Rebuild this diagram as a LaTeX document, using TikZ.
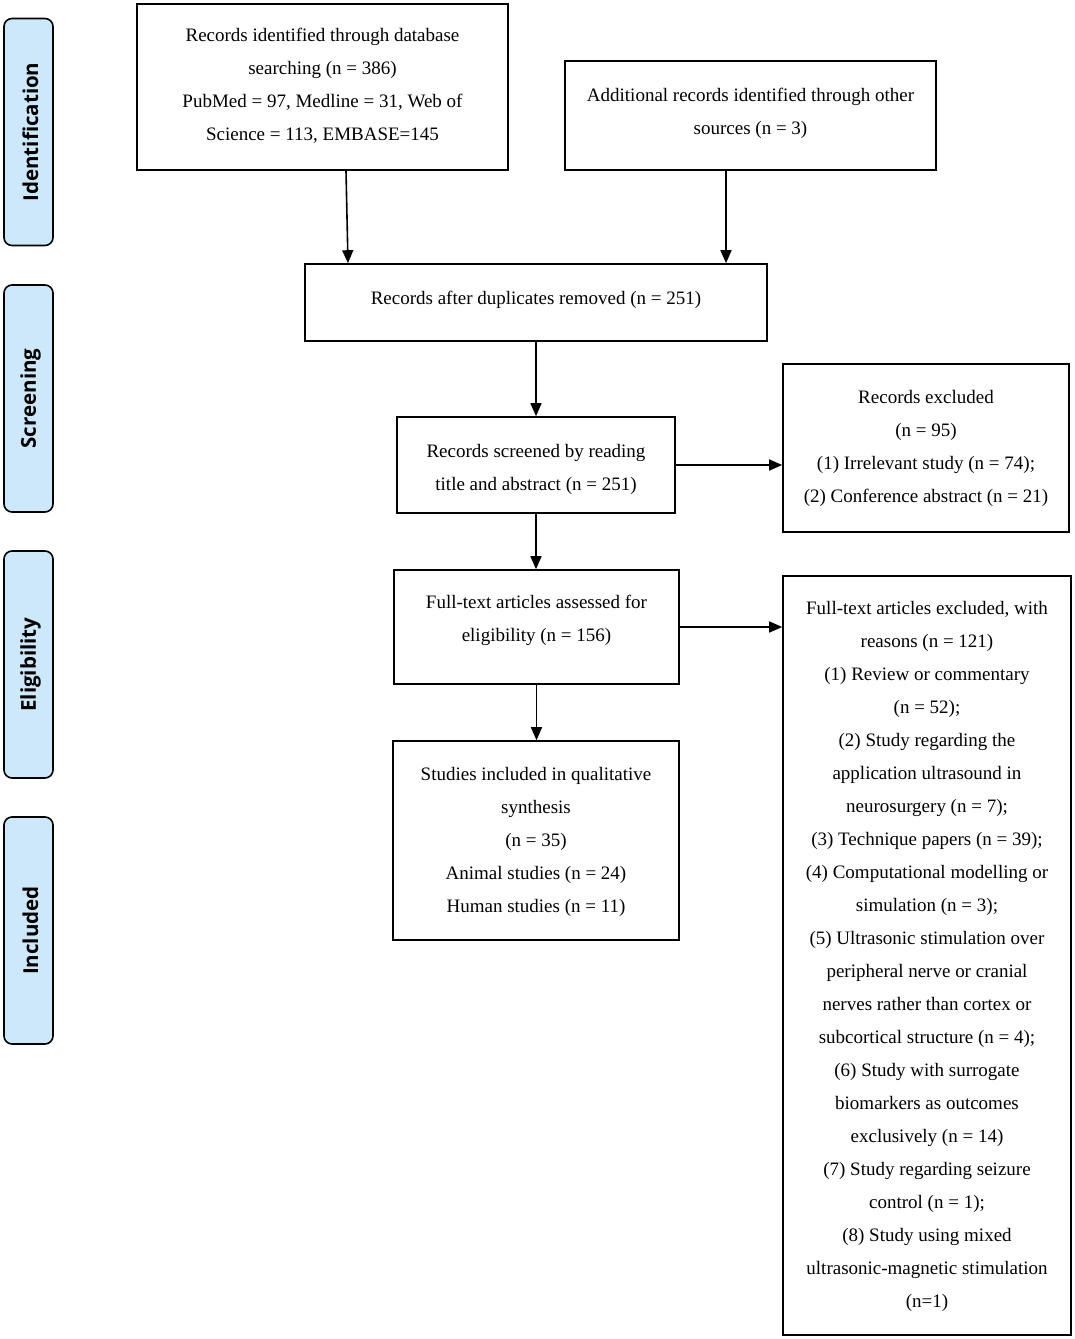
\documentclass[tikz,border=0pt]{standalone}
\usepackage{fontspec}
\setmainfont{Liberation Serif}
\newfontfamily\sidefont{Open Sans}
\usetikzlibrary{arrows.meta}
\definecolor{sideblue}{HTML}{CCE8FA}
\begin{document}
\begin{tikzpicture}[x=1pt,y=-1pt,
  box/.style={draw, line width=1.6pt, inner sep=0pt},
  boxtext/.style={inner sep=0pt, align=center, font=\fontsize{19}{33}\selectfont},
  side/.style={draw, line width=1.6pt, rounded corners=8pt, fill=sideblue,
    minimum width=49pt, minimum height=227pt, inner sep=0pt},
  sidetext/.style={rotate=90, font=\sidefont\bfseries\fontsize{20.5}{24}\selectfont},
  arr/.style={line width=1.6pt, -{Triangle[length=13pt,width=11pt]}}]
\useasboundingbox (0,0) rectangle (1074,1339);
% side bars
\node[side] (s1) at (28.5,132) {};
\node[sidetext] (t1) at ([xshift=2pt]s1.center) {Identification};
\node[side] (s2) at (28.5,398.5) {};
\node[sidetext] (t2) at ([xshift=2pt]s2.center) {Screening};
\node[side] (s3) at (28.5,664.5) {};
\node[sidetext] (t3) at ([xshift=2pt]s3.center) {Eligibility};
\node[side] (s4) at (28.5,930.5) {};
\node[sidetext] (t4) at ([xshift=2pt]s4.center) {Included};
% boxes
\node[box, minimum width=371pt, minimum height=166pt] (b1) at (322.5,87) {};
\node[boxtext] (x1) at ([yshift=1pt]b1.center)
  {Records identified through database\\searching (n = 386)\\PubMed = 97, Medline = 31, Web of\\Science = 113, EMBASE=145};
\node[box, minimum width=371pt, minimum height=109pt] (b2) at (750.5,115.5) {};
\node[boxtext] (x2) at ([yshift=2pt]b2.center)
  {Additional records identified through other\\sources (n = 3)};
\node[box, minimum width=462pt, minimum height=77pt] (b3) at (536,302.5) {};
\node[boxtext] (x3) at ([yshift=3pt]b3.center)
  {Records after duplicates removed (n = 251)};
\node[box, minimum width=278pt, minimum height=96pt] (b4) at (536,465) {};
\node[boxtext] (x4) at ([yshift=-4pt]b4.center)
  {Records screened by reading\\title and abstract (n = 251)};
\node[box, minimum width=286pt, minimum height=168pt] (b5) at (926,448) {};
\node[boxtext] (x5) at (b5.center)
  {Records excluded\\(n = 95)\\(1) Irrelevant study (n = 74);\\(2) Conference abstract (n = 21)};
\node[box, minimum width=285pt, minimum height=114pt] (b6) at (536.5,627) {};
\node[boxtext] (x6) at ([yshift=7pt]b6.center)
  {Full-text articles assessed for\\eligibility (n = 156)};
\node[box, minimum width=288pt, minimum height=759pt] (b7) at (927,955.5) {};
\node[boxtext] (x7) at ([yshift=-1pt]b7.center)
  {Full-text articles excluded, with\\reasons (n = 121)\\(1) Review or commentary\\(n = 52);\\(2) Study regarding the\\application ultrasound in\\neurosurgery (n = 7);\\(3) Technique papers (n = 39);\\(4) Computational modelling or\\simulation (n = 3);\\(5) Ultrasonic stimulation over\\peripheral nerve or cranial\\nerves rather than cortex or\\subcortical structure (n = 4);\\(6) Study with surrogate\\biomarkers as outcomes\\exclusively (n = 14)\\(7) Study regarding seizure\\control (n = 1);\\(8) Study using mixed\\ultrasonic-magnetic stimulation\\(n=1)};
\node[box, minimum width=286pt, minimum height=199pt] (b8) at (536,840.5) {};
\node[boxtext] (x8) at ([yshift=-1pt]b8.center)
  {Studies included in qualitative\\synthesis\\(n = 35)\\Animal studies (n = 24)\\Human studies (n = 11)};
% arrows
\draw[arr] ([xshift=23.5pt]b1.south) -- ([xshift=-188pt]b3.north);
\draw[arr] ([xshift=-24.5pt]b2.south) -- ([xshift=190pt]b3.north);
\draw[arr] (b3.south) -- (b4.north);
\draw[arr] (b4.east) -- (b5.west |- b4.east);
\draw[arr] (b4.south) -- (b6.north -| b4.south);
\draw[arr] (b6.east) -- (b7.west |- b6.east);
\draw[arr] (b6.south) -- (b8.north -| b6.south);
\end{tikzpicture}
\end{document}
